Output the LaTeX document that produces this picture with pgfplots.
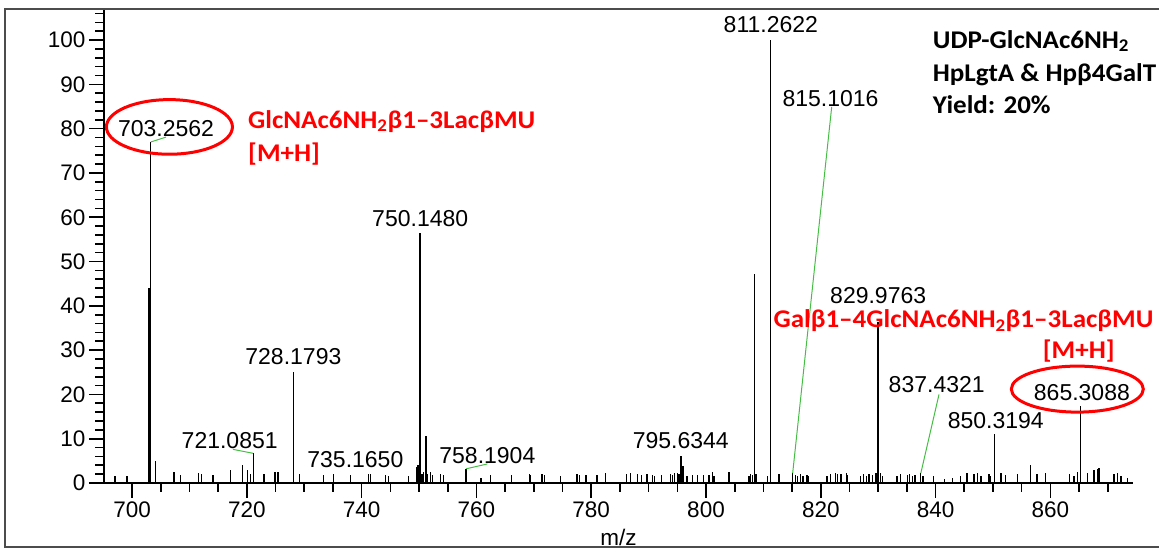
\documentclass[border=0pt]{standalone}
\usepackage{graphicx}
\usepackage{pgfplots}
\usepackage{pgfplotstable}
\pgfplotsset{compat=1.18}
\usepackage{fontspec}
\setmainfont{Liberation Sans}
\newfontfamily\calfont{Carlito}
\definecolor{leader}{RGB}{70,190,70}
\definecolor{annot}{RGB}{255,0,0}
\newcommand\ticklab{\fontsize{22.5bp}{26bp}\selectfont}
\newcommand\peaklab{\fontsize{23bp}{26bp}\selectfont}
\newcommand\boldlab{\calfont\bfseries\fontsize{25.5bp}{30bp}\selectfont}
\newcommand\wide[1]{\scalebox{1.06}[1]{#1}}

% centroided MS peaks: m/z and relative intensity (%)
\pgfplotstableread{
mz int
697.0 1.5
699.1 1.5
702.96 44
703.26 77
704.1 4.9
707.3 2.5
708.4 1.7
711.6 2.3
712.1 2.0
714.1 1.7
717.1 3.0
719.2 4.0
720.1 3.0
720.6 2.0
721.09 6.7
723.0 2.0
724.9 2.5
725.4 2.5
728.18 25
729.2 2.0
733.4 1.7
735.1 2.0
738.0 1.7
741.2 2.0
741.5 2.0
744.1 1.7
744.7 1.5
748.2 1.5
749.5 3.6
749.8 4.0
750.15 56.4
750.5 2.0
750.8 2.5
751.2 10.5
751.5 2.0
752.0 2.5
752.3 1.8
753.7 2.0
754.2 1.7
758.19 3.2
760.8 1.2
762.5 1.7
766.1 1.7
769.2 2.0
769.4 1.7
771.4 2.0
771.9 1.7
774.6 1.5
777.5 2.0
778.0 1.7
779.1 1.7
781.0 1.7
782.5 2.3
786.1 2.0
786.8 2.3
788.1 2.0
788.8 1.7
789.7 2.0
790.7 1.7
791.0 1.5
792.2 1.7
793.8 2.0
794.1 1.7
794.5 2.3
795.0 2.3
795.3 2.0
795.63 6.0
796.0 3.8
796.7 1.5
797.6 1.7
798.5 1.7
799.6 1.7
800.5 1.7
801.1 2.5
801.4 1.5
804.0 2.5
807.5 1.5
807.8 2.0
808.1 1.8
808.4 47.3
808.7 2.0
810.7 1.5
811.26 100
812.7 2.0
815.10 2.2
815.6 1.7
816.0 1.5
816.5 2.0
816.9 1.5
817.6 1.7
817.9 1.5
821.1 1.5
821.7 2.0
822.6 2.3
822.9 2.0
823.5 2.0
824.5 2.3
824.7 1.7
826.9 1.5
827.5 2.0
828.0 1.5
828.4 2.0
829.0 1.7
829.6 2.3
829.98 36.3
830.4 2.3
830.7 1.5
833.3 1.5
833.9 2.0
835.1 1.7
835.4 2.0
836.0 1.5
836.4 1.7
837.43 2.2
837.8 1.5
839.7 1.5
841.5 1.0
842.9 1.2
844.4 1.5
845.5 2.3
846.7 2.0
847.3 2.3
847.9 1.5
849.3 2.0
849.6 1.5
850.32 11.0
851.4 2.3
852.2 1.7
854.3 2.0
856.6 4.1
857.7 2.0
859.2 2.3
863.3 2.0
864.1 1.5
864.7 2.5
865.31 17.3
866.5 2.3
867.6 3.0
868.2 3.2
868.5 3.4
871.1 2.0
871.7 2.3
872.3 1.5
873.4 1.2
}\peaks

\begin{document}
\begin{tikzpicture}
\useasboundingbox (0bp,0bp) rectangle (1159bp,548bp);
\draw[line width=2bp, black!70] (5bp,1.3bp) rectangle (1165bp,539bp);
\begin{axis}[
  at={(104bp,65bp)}, anchor=south west,
  scale only axis, width=1029bp, height=473bp,
  xmin=695.1, xmax=874.4, ymin=0, ymax=106.8,
  clip=false,
  axis x line=bottom, axis y line=left,
  axis line style={-, line width=1.8bp, black},
  xtick={700,720,...,860}, ytick={0,10,...,100},
  minor xtick={700,705,...,870}, minor ytick={0,2,...,106},
  tick align=outside,
  major tick length=15bp, minor tick length=9bp,
  tick style={line width=1.6bp, black},
  tick label style={font=\ticklab},
  /pgf/number format/assume math mode=true,
  xlabel={m/z},
  xlabel style={at={(axis description cs:0.5,0)}, anchor=base, yshift=-62bp, font=\ticklab, inner sep=0pt},
]
\addplot[ycomb, black, line width=1.3bp, mark=none] table[x=mz, y=int] {\peaks};

% peak labels
\node[font=\peaklab, inner sep=0pt] at (axis cs:705.9,80.1) {703.2562};
\node[font=\peaklab, inner sep=0pt] at (axis cs:811.3,103.6) {811.2622};
\node[font=\peaklab, inner sep=0pt] at (axis cs:821.7,86.7) {815.1016};
\node[font=\peaklab, inner sep=0pt] at (axis cs:750.2,59.8) {750.1480};
\node[font=\peaklab, inner sep=0pt] at (axis cs:728.1,28.5) {728.1793};
\node[font=\peaklab, inner sep=0pt] at (axis cs:717.0,9.6) {721.0851};
\node[font=\peaklab, inner sep=0pt] at (axis cs:738.9,5.4) {735.1650};
\node[font=\peaklab, inner sep=0pt] at (axis cs:761.9,6.1) {758.1904};
\node[font=\peaklab, inner sep=0pt] at (axis cs:795.6,9.5) {795.6344};
\node[font=\peaklab, inner sep=0pt] at (axis cs:830.0,42.3) {829.9763};
\node[font=\peaklab, inner sep=0pt] at (axis cs:840.2,22.3) {837.4321};
\node[font=\peaklab, inner sep=0pt] at (axis cs:850.5,14.1) {850.3194};
\node[font=\peaklab, inner sep=0pt] at (axis cs:865.5,20.4) {865.3088};

% leader lines from small peaks to their labels
\draw[leader, line width=1bp] (axis cs:703.26,77) -- (axis cs:705.9,78.1);
\draw[leader, line width=1bp] (axis cs:721.09,6.7) -- (axis cs:717.56,7.6);
\draw[leader, line width=1bp] (axis cs:758.19,3.2) -- (axis cs:761.9,4.3);
\draw[leader, line width=1bp] (axis cs:815.10,2.2) -- (axis cs:821.9,84.9);
\draw[leader, line width=1bp] (axis cs:837.43,2.2) -- (axis cs:840.6,20.0);

% product ions
\draw[annot, line width=3bp] (axis cs:706.5,80.4) ellipse [x radius=63bp, y radius=27.3bp];
\draw[annot, line width=3bp] (axis cs:864.7,21.2) ellipse [x radius=66bp, y radius=23bp];
\node[anchor=base west, text=annot, font=\boldlab, inner sep=0pt] at (axis cs:720.2,80.1) {\wide{GlcNAc6NH\textsubscript{2}β1–3LacβMU}};
\node[anchor=base west, text=annot, font=\boldlab, inner sep=0pt] at (axis cs:720.2,72.6) {\wide{[M+H]}};
\node[anchor=base east, text=annot, font=\boldlab, inner sep=0pt] at (axis cs:878.0,35.0) {\wide{Galβ1–4GlcNAc6NH\textsubscript{2}β1–3LacβMU}};
\node[anchor=base, text=annot, font=\boldlab, inner sep=0pt] at (axis cs:864.95,28.0) {\wide{[M+H]}};

% reaction conditions
\node[anchor=base west, font=\boldlab, inner sep=0pt] at (axis cs:839.5,98.2) {\wide{UDP-GlcNAc6NH\textsubscript{2}}};
\node[anchor=base west, font=\boldlab, inner sep=0pt] at (axis cs:839.5,90.7) {\wide{HpLgtA \& Hpβ4GalT}};
\node[anchor=base west, font=\boldlab, inner sep=0pt] at (axis cs:839.5,83.5) {\wide{Yield: 20\%}};
\end{axis}
\end{tikzpicture}
\end{document}
